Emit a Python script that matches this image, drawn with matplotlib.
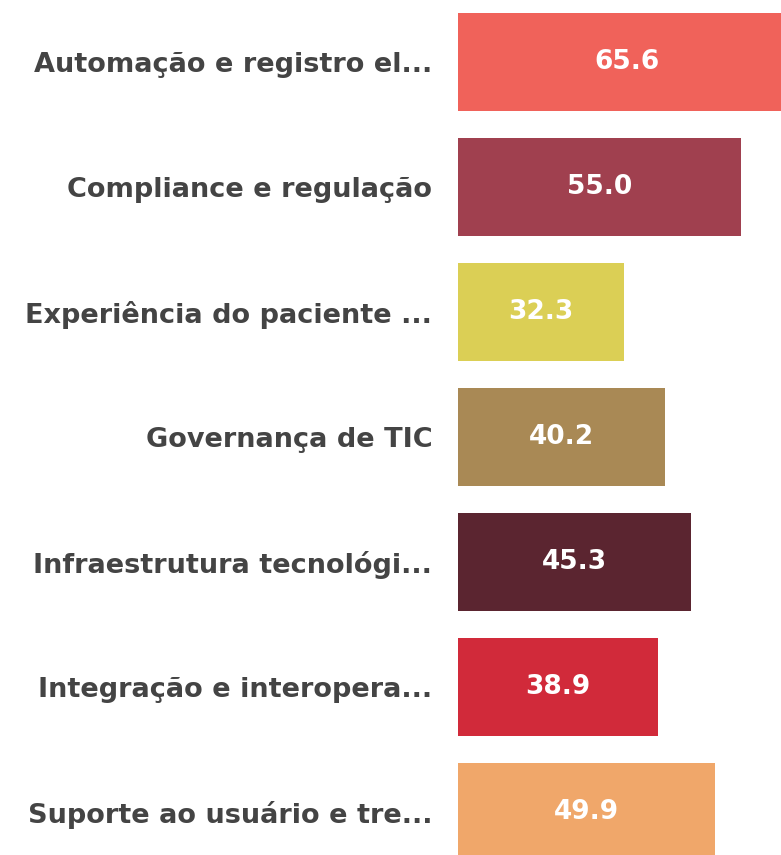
import matplotlib.pyplot as plt

categories = ["Automação e registro el...", "Compliance e regulação", "Experiência do paciente ...",
              "Governança de TIC", "Infraestrutura tecnológi...", "Integração e interopera...",
              "Suporte ao usuário e tre..."]
values = [65.6, 55.0, 32.3, 40.2, 45.3, 38.9, 49.9]
colors = ["#F0625A", "#A0404F", "#DBCF55", "#A98955", "#5B2530", "#D12A3A", "#F0A76A"]

fig = plt.figure(figsize=(7.81, 8.55), dpi=100)
ax = fig.add_axes([458 / 781, 0, 1 - 458 / 781, 1])

pos = list(range(len(categories)))
ax.barh(pos, values, height=0.78, color=colors)
ax.set_xlim(0, 62.78)
ax.set_ylim(6.344, -0.496)

for p, v in zip(pos, values):
    ax.text(v / 2, p, f"{v:.1f}", ha="center", va="center", color="white",
            fontsize=19, fontweight="bold", family="DejaVu Sans")

ax.set_yticks(pos)
ax.set_yticklabels(categories, fontsize=19.5, fontweight="bold", color="#444444",
                   family="DejaVu Sans")
ax.tick_params(axis="y", length=0, pad=18.5)
ax.set_xticks([])
for s in ax.spines.values():
    s.set_visible(False)

fig.savefig("out.png", dpi=100)
